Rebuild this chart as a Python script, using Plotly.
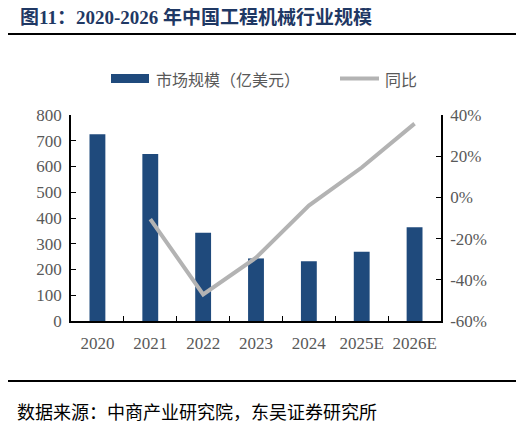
import plotly.graph_objects as go

# data
years = ['2020', '2021', '2022', '2023', '2024', '2025E', '2026E']
market_size = [725, 649, 343, 243, 232, 269, 364]          # 亿美元
yoy_growth = [None, -10.5, -47.1, -29.3, -4.0, 14.5, 35.8]  # %

# right axis ticks (plain hyphen like the source, not a unicode minus)
pct_ticks = [-60, -40, -20, 0, 20, 40]
pct_labels = ['-60%', '-40%', '-20%', '0%', '20%', '40%']

# the page puts the figure 8px in from the window corner, so work in window pixels
OFF = 8
W, H = 524 - OFF, 427 - OFF
L, R, T, B = 71 - OFF, 441 - OFF, 115 - OFF, 321 - OFF

def px_x(px):
    return (px - OFF - L) / (R - L)

def px_y(py):
    return (B - (py - OFF)) / (B - T)

navy = '#1f4a7c'
grey_line = '#b3b3b3'
tick_grey = '#595959'
serif = 'Liberation Serif, Noto Sans CJK SC'
cjk = 'Noto Sans CJK SC, Liberation Serif'

fig = go.Figure()
fig.add_trace(go.Bar(
    x=years, y=market_size, name='市场规模（亿美元）',
    marker=dict(color=navy, line=dict(width=0)),
    width=0.3,
))
fig.add_trace(go.Scatter(
    x=years, y=yoy_growth, name='同比', yaxis='y2',
    mode='lines', line=dict(color=grey_line, width=4),
))

axis_common = dict(
    showgrid=False, zeroline=False, showline=True, linecolor='black', linewidth=1.5,
    ticks='inside', ticklen=5, tickcolor='black',
    tickfont=dict(family=serif, size=17, color=tick_grey),
)

fig.update_layout(
    width=W, height=H,
    margin=dict(l=L, r=W - R, t=T, b=H - B),
    plot_bgcolor='white', paper_bgcolor='white',
    showlegend=False,
    xaxis=dict(axis_common, tickson='boundaries', ticklabelstandoff=6, tickangle=0),
    yaxis=dict(axis_common, range=[0, 800], dtick=100, ticklabelstandoff=4),
    yaxis2=dict(axis_common, overlaying='y', side='right', range=[-60, 40],
                tickvals=pct_ticks, ticktext=pct_labels, ticklabelstandoff=4),
)

shapes = [
    # rule under the title and above the source line
    dict(type='line', xref='paper', yref='paper', x0=px_x(5), x1=px_x(518),
         y0=px_y(34), y1=px_y(34), line=dict(color='black', width=2)),
    dict(type='line', xref='paper', yref='paper', x0=px_x(5), x1=px_x(518),
         y0=px_y(381), y1=px_y(381), line=dict(color='black', width=2)),
    # legend keys
    dict(type='rect', xref='paper', yref='paper', x0=px_x(111), x1=px_x(149),
         y0=px_y(83), y1=px_y(74), fillcolor=navy, line=dict(width=0)),
    dict(type='line', xref='paper', yref='paper', x0=px_x(340), x1=px_x(379),
         y0=px_y(78.5), y1=px_y(78.5), line=dict(color=grey_line, width=4)),
]

annotations = [
    dict(text='<b>图11：2020-2026 年中国工程机械行业规模</b>', xref='paper', yref='paper',
         x=px_x(18), y=px_y(17), xanchor='left', yanchor='middle', showarrow=False,
         font=dict(family=serif, size=19, color='#1f3864')),
    dict(text='市场规模（亿美元）', xref='paper', yref='paper',
         x=px_x(154), y=px_y(79), xanchor='left', yanchor='middle', showarrow=False,
         font=dict(family=cjk, size=16, color=tick_grey)),
    dict(text='同比', xref='paper', yref='paper',
         x=px_x(383), y=px_y(79), xanchor='left', yanchor='middle', showarrow=False,
         font=dict(family=cjk, size=16, color=tick_grey)),
    dict(text='数据来源：中商产业研究院，东吴证券研究所', xref='paper', yref='paper',
         x=px_x(15), y=px_y(411), xanchor='left', yanchor='middle', showarrow=False,
         font=dict(family=cjk, size=18, color='black')),
]

fig.update_layout(shapes=shapes, annotations=annotations)

fig.write_html('out.html')
